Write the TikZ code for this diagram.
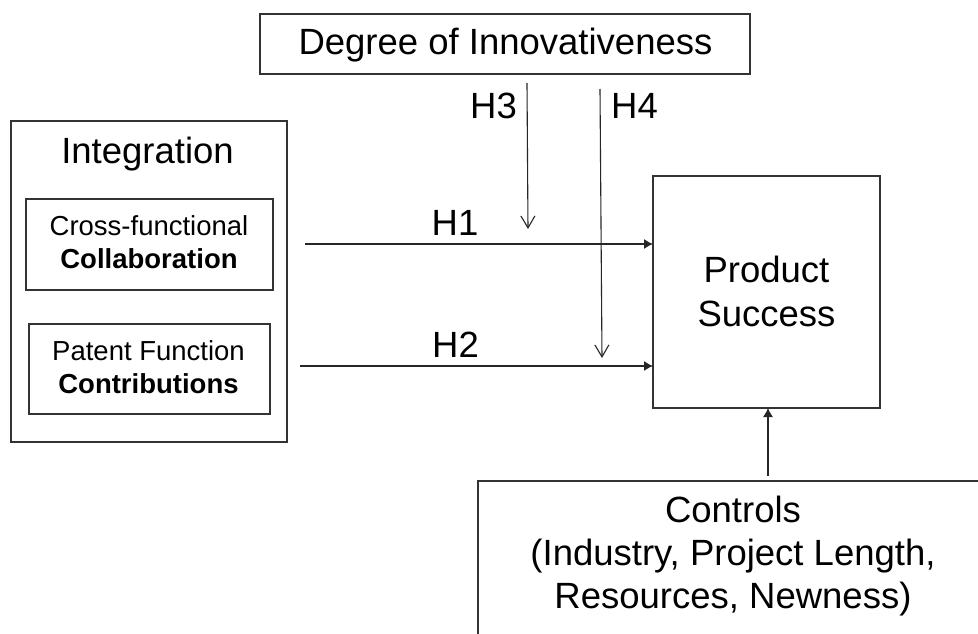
\documentclass[tikz,border=0pt]{standalone}
\usepackage{fontspec}
\setmainfont{Liberation Sans}
\usetikzlibrary{arrows.meta}
\begin{document}
\begin{tikzpicture}[x=1pt,y=-1pt,
  boxline/.style={draw=black!80,line width=1.2pt,inner sep=0pt,outer sep=0pt},
  bigtxt/.style={anchor=base,inner sep=0pt,font=\fontsize{36.5}{40}\selectfont},
  smalltxt/.style={anchor=base,inner sep=0pt,font=\fontsize{27.5}{30}\selectfont},
  fillarrow/.style={draw=black!85,line width=1.1pt,-{Latex[length=9pt,width=10pt]}},
  openarrow/.style={draw=black!85,line width=1.1pt,-{Straight Barb[length=12pt,width=14pt,line width=1.1pt]}}]
\clip (0,0) rectangle (978,634);
\fill[white] (0,0) rectangle (978,634);
% boxes
\node[boxline,minimum width=490pt,minimum height=60pt] (deg) at (505,44) {};
\node[boxline,minimum width=276pt,minimum height=321pt] (integ) at (149,281.5) {};
\node[boxline,minimum width=247pt,minimum height=91pt] (collab) at (149.5,244.5) {};
\node[boxline,minimum width=241pt,minimum height=90pt] (patent) at (149.5,369) {};
\node[boxline,minimum width=227pt,minimum height=232pt] (prod) at (766.5,292) {};
\node[boxline,minimum width=522pt,minimum height=179pt] (ctl) at (739,570.5) {};
% texts
\node[bigtxt] (tdeg) at (505.5,55) {Degree of Innovativeness};
\node[bigtxt] (tint) at (147.5,163) {Integration};
\node[smalltxt] (tcf) at (149,235) {Cross-functional};
\node[smalltxt] (tcol) at (149,268) {\bfseries Collaboration};
\node[smalltxt] (tpf) at (148.5,360) {Patent Function};
\node[smalltxt] (tcon) at (148.5,393) {\bfseries Contributions};
\node[bigtxt] (tprod) at (766.5,282) {Product};
\node[bigtxt] (tsucc) at (766.5,326) {Success};
\node[bigtxt] (tctl1) at (733,522) {Controls};
\node[bigtxt] (tctl2) at (733,565) {(Industry, Project Length,};
\node[bigtxt] (tctl3) at (733,608) {Resources, Newness)};
\node[bigtxt] (lh3) at (493.5,118) {H3};
\node[bigtxt] (lh4) at (634.5,118) {H4};
\node[bigtxt] (lh1) at (455,235) {H1};
\node[bigtxt] (lh2) at (455.5,357) {H2};
% connector free ends
\coordinate (h1s) at (305,244);
\coordinate (h2s) at (300,366);
\coordinate (h3s) at (527,83);
\coordinate (h3e) at (528,229);
\coordinate (h4s) at (600,89);
\coordinate (h4e) at (602,358);
\draw[fillarrow] (h1s) -- (prod.west |- h1s);
\draw[fillarrow] (h2s) -- (prod.west |- h2s);
\draw[openarrow] (h3s) -- (h3e);
\draw[openarrow] (h4s) -- (h4e);
\draw[fillarrow,shorten <=5pt] (ctl.north -| 768,0) -- (prod.south -| 768,0);
\end{tikzpicture}
\end{document}
